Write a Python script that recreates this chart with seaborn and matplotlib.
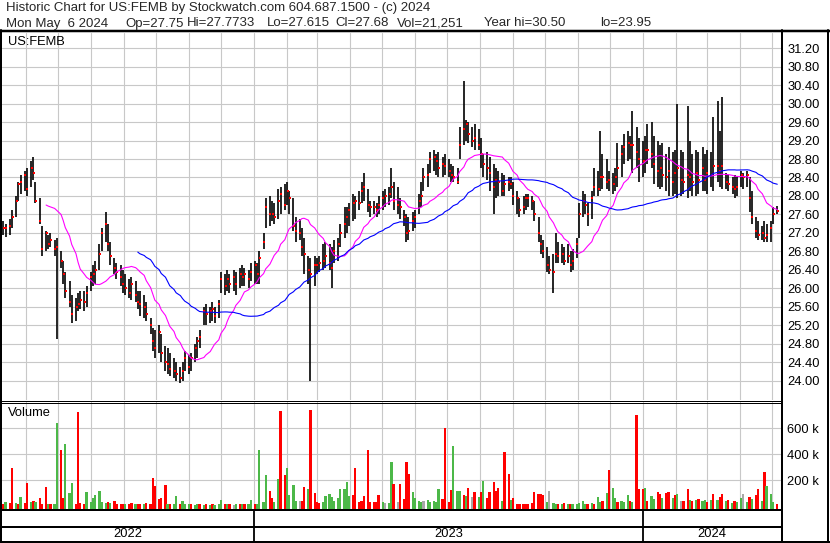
import numpy as np
import pandas as pd
import matplotlib
matplotlib.use('Agg')
import matplotlib.pyplot as plt
import matplotlib.dates as mdates
from matplotlib.lines import Line2D
import seaborn as sns

# Price bars (each bar = 2 trading days), May 2022 - May 6 2024
highs = [
    27.45, 27.4, 27.5, 27.7, 28.0, 28.3, 28.45, 28.55, 28.6, 28.75,
    28.85, 28.3, 27.95, 27.35, 27.25, 27.15, 27.2, 27.05, 27.1, 26.8,
    26.6, 26.35, 26.15, 25.85, 25.8, 25.9, 25.95, 25.95, 26.05, 26.35,
    26.5, 26.6, 26.95, 27.3, 27.65, 27.4, 27.0, 26.65, 26.55, 26.5,
    26.4, 26.3, 26.2, 26.25, 26.15, 25.95, 25.95, 25.85, 25.7, 25.35,
    25.15, 25.1, 25.2, 25.0, 24.75, 24.7, 24.6, 24.5, 24.4, 24.3,
    24.4, 24.65, 24.55, 24.6, 24.8, 24.95, 25.1, 25.6, 25.65, 25.6,
    25.7, 25.6, 25.75, 26.35, 26.3, 26.4, 26.3, 26.4, 26.35, 26.45,
    26.5, 26.45, 26.4, 26.55, 26.6, 26.55, 26.8, 27.2, 27.95, 28.0,
    27.9, 27.85, 28.15, 28.2, 28.25, 28.3, 28.1, 27.95, 27.55, 27.5,
    27.3, 27.1, 26.7, 26.65, 26.7, 26.65, 26.7, 26.95, 27.0, 26.95,
    26.9, 27.05, 27.1, 27.4, 27.75, 27.75, 27.85, 28.05, 28.0, 28.1,
    28.3, 28.5, 28.15, 27.9, 27.9, 27.85, 28.0, 28.1, 28.15, 28.2,
    28.6, 28.3, 28.2, 27.95, 27.7, 27.6, 27.55, 27.65, 27.7, 28.05,
    28.3, 28.6, 28.7, 28.95, 29.0, 28.9, 28.95, 28.85, 28.9, 28.8,
    28.7, 28.65, 28.6, 29.5, 30.5, 29.65, 29.6, 29.5, 29.55, 29.45,
    29.25, 28.9, 28.95, 28.85, 28.7, 28.6, 28.55, 28.5, 28.45, 28.4,
    28.4, 28.3, 28.1, 27.95, 28.0, 28.05, 28.05, 28.0, 27.9, 27.55,
    27.15, 27.05, 26.9, 26.7, 26.75, 27.2, 27.0, 26.95, 26.9, 26.95,
    26.8, 26.85, 27.1, 27.85, 28.1, 28.05, 27.85, 28.1, 28.6, 28.55,
    29.4, 28.9, 28.8, 28.55, 28.5, 28.6, 29.15, 29.1, 29.35, 29.4,
    29.3, 29.85, 29.5, 29.25, 29.2, 29.3, 29.55, 29.6, 29.3, 29.2,
    29.1, 29.15, 28.9, 29.05, 28.95, 29.0, 30.0, 29.0, 28.95, 29.95,
    29.2, 28.9, 29.0, 28.95, 29.05, 28.9, 29.0, 28.95, 29.7, 30.05,
    29.4, 30.15, 28.5, 28.45, 28.4, 28.45, 28.4, 28.55, 28.5, 28.55,
    28.4, 28.1, 27.55, 27.45, 27.35, 27.45, 27.4, 27.45, 27.75, 27.78,
]
lows = [
    27.15, 27.12, 27.15, 27.3, 27.55, 27.9, 28.05, 28.1, 28.0, 28.2,
    28.35, 27.85, 27.4, 26.7, 26.8, 26.85, 26.9, 26.7, 24.9, 26.45,
    26.1, 25.8, 25.6, 25.25, 25.3, 25.5, 25.55, 25.5, 25.6, 25.95,
    26.05, 26.1, 26.4, 26.8, 27.0, 26.8, 26.5, 26.3, 26.2, 26.05,
    25.9, 25.85, 25.8, 25.75, 25.7, 25.55, 25.4, 25.35, 25.3, 25.0,
    24.65, 24.5, 24.6, 24.4, 24.2, 24.15, 24.1, 24.05, 24.0, 23.95,
    24.0, 24.2, 24.15, 24.2, 24.4, 24.5, 24.7, 25.2, 25.2, 25.25,
    25.3, 25.25, 25.35, 25.9, 25.85, 25.95, 25.9, 25.95, 25.85, 26.0,
    26.05, 26.05, 26.0, 26.15, 26.1, 26.1, 26.1, 26.85, 27.3, 27.35,
    27.45, 27.4, 27.5, 27.6, 27.7, 27.8, 27.6, 27.25, 27.0, 27.05,
    26.7, 26.3, 26.1, 24.0, 26.05, 26.3, 26.35, 26.4, 26.45, 26.4,
    26.0, 26.55, 26.6, 26.9, 27.1, 27.2, 27.35, 27.45, 27.5, 27.7,
    27.85, 27.9, 27.65, 27.55, 27.6, 27.55, 27.6, 27.7, 27.75, 27.8,
    27.95, 27.7, 27.6, 27.5, 27.35, 27.0, 27.05, 27.25, 27.3, 27.6,
    27.75, 28.1, 28.2, 28.5, 28.55, 28.45, 28.4, 28.4, 28.45, 28.4,
    28.3, 28.3, 28.25, 28.8, 29.1, 29.2, 29.15, 29.05, 29.0, 29.0,
    28.6, 28.4, 28.35, 28.1, 27.6, 27.95, 28.0, 28.0, 28.0, 28.1,
    28.15, 27.8, 27.6, 27.55, 27.6, 27.7, 27.75, 27.7, 27.45, 27.0,
    26.75, 26.65, 26.35, 26.3, 25.9, 26.55, 26.55, 26.55, 26.5, 26.55,
    26.35, 26.4, 26.65, 27.1, 27.55, 27.6, 27.35, 27.5, 28.0, 28.0,
    28.1, 28.15, 28.15, 28.1, 28.05, 28.1, 28.2, 28.4, 28.7, 28.75,
    28.8, 28.5, 28.6, 28.3, 28.4, 28.5, 28.7, 28.6, 28.25, 28.2,
    28.15, 28.2, 28.1, 28.0, 28.0, 28.05, 27.95, 28.0, 28.05, 27.95,
    28.1, 28.0, 28.0, 28.05, 28.1, 28.1, 28.05, 28.2, 28.1, 28.3,
    28.2, 28.15, 28.15, 28.1, 28.05, 27.95, 28.0, 28.2, 28.15, 28.2,
    27.65, 27.4, 27.1, 27.05, 27.05, 27.0, 27.0, 27.0, 27.4, 27.6,
]
closes = [
    27.3, 27.3, 27.35, 27.55, 27.9, 28.25, 28.3, 28.45, 28.15, 28.6,
    28.5, 27.9, 27.45, 26.85, 27.2, 26.95, 27.05, 26.85, 26.9, 26.6,
    26.3, 25.95, 25.7, 25.45, 25.6, 25.65, 25.75, 25.7, 25.9, 26.25,
    26.3, 26.4, 26.75, 27.2, 27.4, 26.95, 26.7, 26.45, 26.35, 26.25,
    26.1, 26.0, 25.9, 26.1, 25.85, 25.7, 25.65, 25.6, 25.45, 25.2,
    24.85, 24.7, 25.05, 24.6, 24.4, 24.35, 24.25, 24.2, 24.15, 24.05,
    24.2, 24.5, 24.3, 24.5, 24.7, 24.85, 24.95, 25.5, 25.45, 25.5,
    25.55, 25.4, 25.65, 26.2, 26.05, 26.2, 26.1, 26.25, 26.1, 26.3,
    26.25, 26.3, 26.2, 26.35, 26.5, 26.3, 26.65, 27.0, 27.75, 27.6,
    27.6, 27.55, 27.9, 28.05, 27.8, 28.1, 27.95, 27.35, 27.25, 27.2,
    26.9, 26.75, 26.4, 26.3, 26.5, 26.5, 26.55, 26.6, 26.7, 26.55,
    26.45, 26.8, 26.95, 27.2, 27.4, 27.55, 27.7, 27.85, 27.9, 27.85,
    28.1, 28.2, 27.8, 27.75, 27.75, 27.7, 27.8, 27.95, 28.0, 28.05,
    28.2, 27.9, 27.8, 27.75, 27.55, 27.2, 27.25, 27.45, 27.55, 27.9,
    28.0, 28.4, 28.45, 28.8, 28.85, 28.75, 28.6, 28.7, 28.65, 28.55,
    28.45, 28.4, 28.3, 29.1, 29.45, 29.55, 29.35, 29.2, 29.25, 29.1,
    28.9, 28.7, 28.6, 28.5, 28.2, 28.35, 28.3, 28.1, 28.25, 28.3,
    28.25, 28.0, 27.95, 27.7, 27.75, 27.95, 27.95, 27.9, 27.6, 27.2,
    26.95, 26.8, 26.5, 26.4, 26.35, 26.75, 26.7, 26.75, 26.6, 26.7,
    26.5, 26.6, 26.95, 27.6, 27.9, 27.8, 27.6, 27.95, 28.2, 28.15,
    28.4, 28.4, 28.3, 28.35, 28.25, 28.4, 28.6, 28.9, 29.05, 29.15,
    29.1, 29.1, 28.95, 28.8, 28.75, 29.0, 29.0, 28.9, 28.7, 28.55,
    28.6, 28.45, 28.4, 28.55, 28.3, 28.5, 28.6, 28.35, 28.3, 28.45,
    28.4, 28.3, 28.5, 28.35, 28.6, 28.35, 28.5, 28.45, 28.65, 28.65,
    28.55, 28.65, 28.3, 28.25, 28.2, 28.15, 28.2, 28.45, 28.4, 28.45,
    27.95, 27.55, 27.25, 27.15, 27.2, 27.1, 27.15, 27.3, 27.6, 27.68,
]
# volume in thousands
volumes_k = [
    20, 30, 25, 297, 25, 20, 74, 25, 182, 35,
    40, 30, 66, 20, 148, 15, 20, 15, 643, 433,
    60, 479, 105, 182, 20, 728, 25, 20, 110, 30,
    61, 87, 115, 30, 25, 35, 25, 40, 20, 20,
    20, 15, 20, 25, 15, 20, 15, 20, 25, 20,
    220, 159, 56, 66, 164, 20, 15, 20, 79, 20,
    41, 15, 20, 15, 10, 15, 20, 10, 15, 10,
    15, 10, 15, 48, 15, 20, 15, 10, 15, 20,
    15, 20, 15, 48, 20, 15, 433, 30, 240, 120,
    61, 30, 210, 736, 240, 292, 87, 164, 40, 40,
    40, 151, 130, 741, 100, 30, 25, 30, 82, 95,
    70, 40, 60, 130, 130, 184, 80, 87, 297, 35,
    40, 80, 433, 35, 30, 35, 87, 35, 25, 25,
    343, 169, 35, 169, 56, 338, 248, 112, 61, 40,
    35, 40, 45, 35, 40, 30, 133, 56, 605, 30,
    125, 466, 120, 115, 87, 80, 143, 70, 107, 75,
    107, 195, 61, 112, 184, 117, 143, 41, 420, 248,
    48, 66, 20, 15, 20, 15, 20, 25, 107, 95,
    92, 87, 30, 120, 25, 20, 15, 20, 25, 15,
    20, 15, 20, 25, 41, 20, 15, 25, 20, 74,
    30, 40, 100, 279, 143, 61, 35, 41, 30, 87,
    40, 30, 702, 133, 133, 143, 40, 82, 56, 112,
    92, 61, 100, 112, 61, 87, 92, 41, 40, 133,
    50, 40, 45, 55, 40, 50, 35, 45, 92, 45,
    74, 92, 40, 45, 25, 40, 35, 66, 92, 30,
    74, 56, 87, 130, 40, 261, 159, 92, 30, 21,
]
# volume bar colour per bar: g = up, r = down, n = unchanged
vol_dir = (
    "rgrrgrgrrg" "rgrrrgrggr" "rgggrrrrgg" "gggggrgrrr" "rgrrgrrgrr"
    "rrrrrgrggr" "gggrggrgrg" "rgggrgrngr" "grggrggggr" "rggrrggggn"
    "rrgrrrrggg" "gggggggrrr" "rrrrrrrgng" "grnrrrrggg" "gngggggrrr"
    "rgggrgrnrg" "rgrrrrrgrr" "grrrrrrrrr" "rrgnggrgrg" "rgggggrgrg"
    "grgrggrggg" "rgrrrgrggr" "rgrrgrgnrr" "grgrggrgrg" "rrgrgrggng"
    "rgrrgrgggr"
)
tick_prices = np.arange(24.0, 31.21, 0.4)
vol_ticks = [200000, 400000, 600000]
years = [2022, 2023, 2024]

W, H = 830, 543
sns.set_theme(style='white')
plt.rcParams['font.family'] = ['Liberation Sans', 'DejaVu Sans']

dates = pd.bdate_range(end='2024-05-06', periods=2 * len(closes))[1::2]
df = pd.DataFrame({'date': dates, 'high': highs, 'low': lows,
                   'close': closes, 'vol': np.array(volumes_k) * 1000})
df['x'] = mdates.date2num(df['date'])
df['ma_fast'] = df['close'].rolling(15).mean()
df['ma_slow'] = df['close'].rolling(46).mean()

j23 = mdates.date2num(pd.Timestamp('2023-01-01'))
j24 = mdates.date2num(pd.Timestamp('2024-01-01'))
xlim = (j23 - 236.4, j24 + 129.5)

fig = plt.figure(figsize=(W / 100, H / 100), dpi=100)
fig.patch.set_facecolor('white')


def rect(x0, y0, x1, y1):
    return [x0 / W, 1 - y1 / H, (x1 - x0) / W, (y1 - y0) / H]


grid_kw = dict(color='#c8c8c8', linewidth=0.8)

# ---- price panel
ax = fig.add_axes(rect(2, 33, 781, 400))
ax.vlines(df['x'], df['low'], df['high'], color='black', linewidth=1.2, zorder=3)
sns.scatterplot(x=df['x'] + 0.5, y=df['close'], marker='s', s=3, color='red',
                linewidth=0, ax=ax, zorder=4)
sns.lineplot(x=df['x'], y=df['ma_fast'], color='#ff00ff', linewidth=0.8, ax=ax, zorder=5)
sns.lineplot(x=df['x'], y=df['ma_slow'], color='#0000ff', linewidth=0.8, ax=ax, zorder=5)
ax.set_xlim(xlim)
ax.set_ylim(23.58, 31.53)
ax.xaxis.set_major_locator(mdates.MonthLocator())
ax.set_yticks(tick_prices)
ax.set_yticklabels([f'{p:.2f}' for p in tick_prices])
ax.yaxis.tick_right()
ax.tick_params(axis='y', length=0, pad=4.5, labelsize=9.3, colors='black')
ax.tick_params(axis='x', length=0, labelbottom=False)
ax.grid(True, **grid_kw)
ax.set_axisbelow(True)
ax.set_xlabel('')
ax.set_ylabel('')
for s in ax.spines.values():
    s.set_visible(False)
ax.text(6 / 779, 1 - 9 / 367, 'US:FEMB', transform=ax.transAxes, fontsize=9.3,
        va='center', ha='left', color='black')

# ---- volume panel
vmin = -21000
colors = {'g': '#4cb848', 'r': '#ff0000', 'n': '#a8a8a8'}
axv = fig.add_axes(rect(2, 402, 781, 509))
axv.bar(df['x'], df['vol'] - vmin, bottom=vmin, width=2.2,
        color=[colors[c] for c in vol_dir], linewidth=0, zorder=3)
axv.set_xlim(xlim)
axv.set_ylim(vmin, 802000)
axv.xaxis.set_major_locator(mdates.MonthLocator())
axv.set_yticks(vol_ticks)
axv.set_yticklabels([f'{v // 1000} k' for v in vol_ticks])
axv.yaxis.tick_right()
axv.tick_params(axis='y', length=0, pad=4.5, labelsize=9.3, colors='black')
axv.tick_params(axis='x', length=0, labelbottom=False)
axv.grid(True, **grid_kw)
axv.set_axisbelow(True)
for s in axv.spines.values():
    s.set_visible(False)
axv.text(6 / 779, 1 - 11 / 107, 'Volume', transform=axv.transAxes, fontsize=9.3,
         va='center', ha='left', color='black')

# ---- date panel
axd = fig.add_axes(rect(2, 511, 781, 541))
axd.set_xlim(xlim)
axd.set_ylim(0, 1)
axd.axis('off')
bounds = [xlim[0], j23, j24, xlim[1]]
for i, yr in enumerate(years):
    axd.text((bounds[i] + bounds[i + 1]) / 2, 0.22, str(yr), ha='center',
             va='center', fontsize=9.3, color='black')
for b in [j23, j24]:
    axd.axvline(b, color='black', linewidth=1.3)


# ---- frame lines (pixel coordinates)
def hline(y, x0, x1, lw):
    fig.add_artist(Line2D([x0 / W, x1 / W], [1 - y / H, 1 - y / H],
                          color='black', linewidth=lw * 0.72))


def vline(x, y0, y1, lw):
    fig.add_artist(Line2D([x / W, x / W], [1 - y0 / H, 1 - y1 / H],
                          color='black', linewidth=lw * 0.72))


hline(31, 0, 830, 2.5)
hline(400.5, 0, 782, 1)
hline(402.5, 0, 782, 1)
hline(510, 0, 782, 2)
hline(527, 0, 782, 2)
hline(541.5, 0, 830, 2)
vline(1, 30, 543, 2)
vline(781.5, 30, 543, 2)
vline(828, 30, 543, 2)

# ---- header
fig.text(6 / W, 1 - 11.5 / H,
         'Historic Chart for US:FEMB by Stockwatch.com 604.687.1500 - (c) 2024',
         fontsize=9.5, va='baseline', ha='left')
header2 = [('Mon May  6 2024', 6), ('Op=27.75', 125), ('Hi=27.7733', 187),
           ('Lo=27.615', 267), ('Cl=27.68', 335), ('Vol=21,251', 397),
           ('Year hi=30.50', 484), ('lo=23.95', 600)]
for txt, px in header2:
    fig.text(px / W, 1 - 26.5 / H, txt, fontsize=9.5, va='baseline', ha='left')

fig.savefig('out.png', dpi=100, facecolor='white')
